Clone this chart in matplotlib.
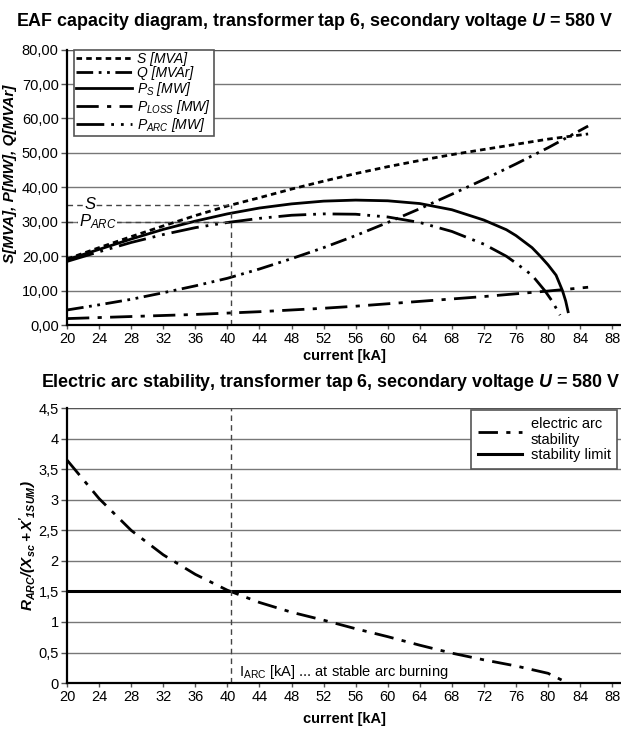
import numpy as np
import matplotlib
matplotlib.use("Agg")
from matplotlib import pyplot as plt

plt.rcParams['font.family'] = ['Liberation Sans', 'DejaVu Sans']
plt.rcParams['mathtext.fontset'] = 'custom'
plt.rcParams['mathtext.rm'] = 'Liberation Sans'
plt.rcParams['mathtext.it'] = 'Liberation Sans:italic'
plt.rcParams['mathtext.bf'] = 'Liberation Sans:bold:italic'
plt.rcParams['mathtext.default'] = 'it'

# top chart: capacity diagram
current = [20, 24, 28, 32, 36, 40, 44, 48, 52, 56, 60, 64, 68, 72, 76, 80, 85]
s_mva = [19.2, 22.5, 25.7, 28.8, 31.8, 34.6, 37.0, 39.5, 41.8, 44.0, 46.0, 47.8, 49.5, 51.0, 52.5, 54.0, 55.5]
q_mvar = [4.4, 5.9, 7.5, 9.4, 11.4, 13.6, 16.3, 19.3, 22.5, 26.0, 29.8, 33.8, 38.0, 42.3, 46.8, 51.5, 57.8]
ploss = [1.9, 2.2, 2.5, 2.8, 3.1, 3.5, 3.9, 4.4, 4.9, 5.5, 6.2, 6.9, 7.6, 8.3, 9.1, 9.9, 11.0]

current_ps = [20, 24, 28, 32, 36, 40, 44, 48, 52, 56, 60, 64, 68, 72, 74.8, 76, 78, 79, 80, 81, 81.8, 82.2, 82.5]
ps = [19.0, 22.0, 25.0, 27.8, 30.2, 32.3, 34.0, 35.2, 36.0, 36.3, 36.1, 35.3, 33.5, 30.5, 27.7, 26.0, 22.5, 20.1, 17.5, 14.5, 10.0, 7.0, 3.9]

current_parc = [20, 24, 28, 32, 36, 40, 44, 48, 52, 56, 60, 64, 68, 72, 74.8, 76, 78, 79.6, 80.5, 81.5]
parc = [18.5, 21.3, 24.0, 26.3, 28.3, 29.8, 31.0, 31.9, 32.3, 32.2, 31.4, 29.8, 27.2, 23.5, 20.0, 18.0, 14.5, 10.0, 7.0, 2.9]

# bottom chart: arc stability
current_stab = [20, 24, 28, 32, 36, 40, 44, 48, 52, 56, 60, 64, 68, 72, 76, 80, 81.7]
stability = [3.65, 3.02, 2.5, 2.1, 1.78, 1.52, 1.32, 1.16, 1.03, 0.89, 0.76, 0.62, 0.49, 0.38, 0.28, 0.16, 0.05]
stab_limit = 1.5

i_arc = 40.5
s_at_iarc = 35
parc_at_iarc = 30

x_ticks = list(range(20, 89, 4))
top_yticks = list(range(0, 81, 10))
top_ylabels = ['%d,00' % v for v in top_yticks]
bot_yticks = [0, 0.5, 1, 1.5, 2, 2.5, 3, 3.5, 4, 4.5]
bot_ylabels = ['0', '0,5', '1', '1,5', '2', '2,5', '3', '3,5', '4', '4,5']

fig = plt.figure(figsize=(6.21, 7.29), dpi=100)
ax1 = fig.add_axes([0.108, 0.554, 0.892, 0.378])
ax2 = fig.add_axes([0.108, 0.063, 0.892, 0.377])

grid_kw = dict(color='#777777', lw=1.0)


def style_axis(ax):
    ax.set_xlim(20, 89.1)
    ax.set_xticks(x_ticks)
    ax.yaxis.grid(True, **grid_kw)
    ax.set_axisbelow(True)
    for side in ['top', 'right']:
        ax.spines[side].set_visible(False)
    ax.spines['left'].set_linewidth(1.6)
    ax.spines['bottom'].set_linewidth(1.6)
    ax.tick_params(axis='both', labelsize=10.5, length=3, width=1, color='#555555', pad=2)
    ax.tick_params(axis='y', length=4)


# --- top chart ---
style_axis(ax1)
ax1.set_ylim(0, 80)
ax1.set_yticks(top_yticks)
ax1.set_yticklabels(top_ylabels)
ax1.axhline(80, color='#555555', lw=1.6)

ax1.plot(current, s_mva, color='black', lw=2.0, ls=(0, (2.0, 1.5)), label='S [MVA]')
ax1.plot(current, q_mvar, color='black', lw=2.0, ls=(0, (6, 2, 1, 2, 1, 2)), label='Q [MVAr]')
ax1.plot(current_ps, ps, color='black', lw=2.0, ls='-', label='$P_S$ [MW]')
ax1.plot(current, ploss, color='black', lw=2.0, ls=(0, (8, 3, 1.5, 3)), label='$P_{LOSS}$ [MW]')
ax1.plot(current_parc, parc, color='black', lw=2.0, ls=(0, (10, 2.5, 1, 2.5, 1, 2.5)), label='$P_{ARC}$ [MW]')

dash_kw = dict(color='#444444', lw=1.0, ls=(0, (4, 3)))
ax1.plot([i_arc, i_arc], [0, s_at_iarc], **dash_kw)
ax1.plot([20, i_arc], [s_at_iarc, s_at_iarc], **dash_kw)
ax1.plot([20, i_arc], [parc_at_iarc, parc_at_iarc], **dash_kw)
ax1.text(22.2, s_at_iarc, 'S', fontsize=12, style='italic', va='center',
         bbox=dict(facecolor='white', edgecolor='none', pad=0.5))
ax1.text(21.5, parc_at_iarc, '$P_{ARC}$', fontsize=12, va='center',
         bbox=dict(facecolor='white', edgecolor='none', pad=0.5))

leg1 = ax1.legend(loc='upper left', bbox_to_anchor=(0.013, 1.0),
                  prop=dict(style='italic', size=10), handlelength=4.0,
                  handletextpad=0.4, labelspacing=0.0, borderpad=0.15,
                  borderaxespad=0.0, fancybox=False, framealpha=1, edgecolor='#555555')
leg1.get_frame().set_linewidth(1.2)

ax1.set_xlabel('current [kA]', fontsize=10.5, fontweight='bold', labelpad=2)
ax1.set_ylabel('S[MVA], P[MW], Q[MVAr]', fontsize=11, fontweight='bold', style='italic')
ax1.yaxis.set_label_coords(-0.090, 0.55)
fig.text(0.507, 0.970, 'EAF capacity diagram, transformer tap 6, secondary voltage $\\mathbf{U}$ = 580 V',
         ha='center', va='center', fontsize=12.9, fontweight='bold')

# --- bottom chart ---
style_axis(ax2)
ax2.set_ylim(0, 4.5)
ax2.set_yticks(bot_yticks)
ax2.set_yticklabels(bot_ylabels)
ax2.axhline(4.5, color='#555555', lw=1.6)

ax2.plot(current_stab, stability, color='black', lw=2.0, ls=(0, (7, 3, 1.5, 3)),
         label='electric arc\nstability')
ax2.axhline(stab_limit, color='black', lw=2.2, label='stability limit')
ax2.plot([i_arc, i_arc], [0, 4.5], **dash_kw)
ax2.text(i_arc + 0.9, 0.18, '$\\mathrm{I_{ARC}}$ [kA] ... at stable arc burning', fontsize=10.5, va='center')

leg2 = ax2.legend(loc='upper right', bbox_to_anchor=(0.993, 0.993), fontsize=10.5,
                  handlelength=3.0, handletextpad=0.6, labelspacing=0.1, borderpad=0.45,
                  borderaxespad=0.0, fancybox=False, framealpha=1, edgecolor='#555555')
leg2.get_frame().set_linewidth(1.2)

ax2.set_xlabel('current [kA]', fontsize=10.5, fontweight='bold', labelpad=6)
ax2.set_ylabel("$\\mathbf{R_{ARC}/(X_{sc}+X'_{1SUM})}$", fontsize=11)
ax2.yaxis.set_label_coords(-0.050, 0.5)
fig.text(0.533, 0.475, 'Electric arc stability, transformer tap 6, secondary voltage $\\mathbf{U}$ = 580 V',
         ha='center', va='center', fontsize=12.9, fontweight='bold')

fig.savefig('out.png', dpi=100)
